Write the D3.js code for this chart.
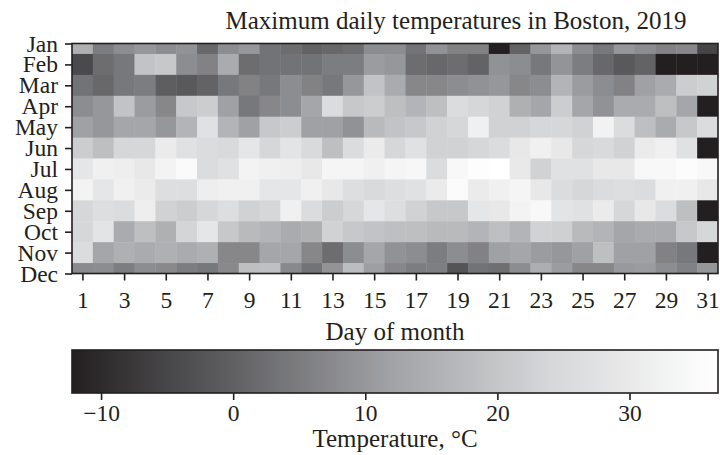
<!DOCTYPE html>
<html>
<head>
<meta charset="utf-8">
<script src="https://cdn.jsdelivr.net/npm/d3@7"></script>
<style>
  html, body { margin: 0; padding: 0; background: #ffffff; }
  svg { display: block; }
  text { font-family: "Liberation Serif", "Times New Roman", serif; fill: #231f20; }
</style>
</head>
<body>
<svg id="chart" width="720" height="455"></svg>
<script>
// ---- data (maximum daily temperature, °C; null = day does not exist) ----
const months = ["Jan","Feb","Mar","Apr","May","Jun","Jul","Aug","Sep","Oct","Nov","Dec"];
const days = d3.range(1, 32);
const xTickDays = [1,3,5,7,9,11,13,15,17,19,21,23,25,27,29,31];
const cbarTicks = [-10, 0, 10, 20, 30];

const jan = [15.0,5.1,8.0,9.8,8.0,8.9,1.4,8.0,9.8,3.3,2.3,0.5,1.4,2.3,8.0,8.0,3.3,8.9,6.1,6.1,-12.2,0.5,9.8,16.1,8.0,4.2,9.8,8.0,6.1,7.0,-5.4];
const feb = [-4.4,2.3,4.2,19.5,20.6,8.0,6.1,13.9,2.3,3.3,3.3,3.3,5.1,5.1,10.7,9.8,2.3,1.4,2.3,0.5,8.9,8.0,4.2,9.4,5.1,1.4,-1.4,0.5,null,null,null];
const mar = [3.3,1.4,4.2,5.1,-0.5,-1.4,0.5,4.2,6.1,4.2,8.0,6.1,4.2,9.8,19.5,13.9,7.0,7.0,8.0,8.9,9.8,7.0,8.0,16.1,10.7,8.0,6.1,11.7,13.9,21.7,22.9];
const apr = [8.0,9.8,19.5,10.7,7.0,20.6,21.7,11.7,4.2,7.0,8.0,12.8,25.6,20.6,21.7,18.4,16.1,18.4,25.6,24.0,22.9,15.0,12.8,21.7,12.8,8.9,13.9,13.9,18.4,12.8,null];
const may = [11.7,9.8,12.8,12.8,9.8,16.1,27.2,16.1,11.7,20.6,21.7,11.7,11.7,8.9,17.3,19.5,20.6,22.9,24.0,32.0,22.9,22.9,24.0,24.0,22.9,32.6,25.6,18.4,13.9,20.6,25.6];
const jun = [21.7,18.4,24.0,24.0,30.4,27.2,25.6,25.0,28.8,24.0,28.2,25.0,18.4,25.6,30.4,24.0,27.2,22.9,22.9,24.0,25.6,29.5,32.0,29.5,24.0,25.0,22.9,30.4,32.0,27.2,null];
const jul = [28.8,32.0,31.4,29.5,32.9,35.1,25.6,27.2,32.9,32.0,31.4,29.5,33.5,33.5,32.0,33.5,34.2,25.6,34.5,36.1,36.7,29.8,22.9,27.2,27.2,29.5,29.5,34.5,34.5,35.8,34.5];
const aug = [32.9,28.8,32.0,30.4,26.2,26.2,31.4,32.0,32.0,28.8,28.8,32.0,29.5,26.2,25.0,26.2,27.2,30.4,35.4,30.4,32.0,33.5,29.5,25.6,24.0,25.6,26.2,25.6,32.0,32.0,29.5];
const sep = [24.0,26.2,25.6,31.4,22.9,21.7,24.0,26.2,22.9,24.0,32.0,25.6,21.7,24.0,28.8,26.2,22.9,20.6,20.6,28.8,29.5,32.9,34.5,28.2,27.2,30.4,24.0,29.5,25.6,18.4,null];
const oct = [24.0,28.2,13.9,18.4,15.0,23.4,28.8,20.6,17.3,16.1,13.9,15.0,22.9,20.6,19.5,18.4,18.4,17.3,17.3,16.1,18.4,16.1,22.9,22.4,17.3,16.1,12.8,13.9,13.9,20.6,24.0];
const nov = [25.6,12.8,15.0,13.9,15.0,13.9,15.0,7.0,7.0,12.8,12.8,7.0,2.3,8.0,12.8,8.9,8.0,5.1,8.0,6.1,11.7,12.8,10.7,9.8,11.7,18.4,11.7,11.7,6.1,4.2,null];
const dec = [7.6,8.0,5.1,8.0,7.4,5.1,4.2,7.4,18.4,18.8,7.4,3.3,9.2,18.0,11.3,7.0,5.1,5.5,-2.4,3.3,2.7,8.0,14.6,10.7,7.0,7.0,10.2,10.7,8.0,5.8,9.6];
const temps = [jan, feb, mar, apr, may, jun, jul, aug, sep, oct, nov, dec];

// ---- layout ----
const svg = d3.select("#chart");
const plot = { left: 72, right: 718, top: 43.5, bottom: 273.5 };
const cbar = { top: 350, bottom: 393 };
const ink = "#231f20";
const fsTick = 23.5;
const fsLabel = 25;

const allVals = temps.flat().filter(v => v !== null);
const vmin = d3.min(allVals), vmax = d3.max(allVals);

// grey colour map (as rendered in the reference)
const cmapPos = [0, 0.24, 0.488, 0.735, 1];
const cmapCol = ["#231f20", "#5e5e61", "#a0a1a4", "#d5d6d8", "#ffffff"];
const color = d3.scaleLinear()
  .domain(cmapPos.map(p => vmin + p * (vmax - vmin)))
  .range(cmapCol)
  .clamp(true);

const x = d3.scaleLinear().domain([0.5, 31.5]).range([plot.left, plot.right]);
const y = d3.scaleLinear().domain([0, 11]).range([plot.top, plot.bottom]);

// title
svg.append("text")
  .attr("x", 456).attr("y", 29)
  .attr("text-anchor", "middle")
  .style("font-size", "25px")
  .text("Maximum daily temperatures in Boston, 2019");

// clip
svg.append("defs").append("clipPath").attr("id", "clip")
  .append("rect")
  .attr("x", plot.left).attr("y", plot.top)
  .attr("width", plot.right - plot.left).attr("height", plot.bottom - plot.top);

const cells = [];
temps.forEach((row, i) => row.forEach((v, j) => cells.push({ m: i, d: days[j], v })));

svg.append("g").attr("clip-path", "url(#clip)")
  .selectAll("rect").data(cells).join("rect")
  .attr("x", c => x(c.d - 0.5))
  .attr("y", c => y(c.m - 0.5))
  .attr("width", c => x(c.d + 0.5) - x(c.d - 0.5) + 0.4)
  .attr("height", c => y(c.m + 0.5) - y(c.m - 0.5) + 0.4)
  .attr("fill", c => c.v === null ? color(vmin) : color(c.v));

// frame
svg.append("rect")
  .attr("x", plot.left).attr("y", plot.top)
  .attr("width", plot.right - plot.left).attr("height", plot.bottom - plot.top)
  .attr("fill", "none").attr("stroke", ink).attr("stroke-width", 1.6);

// y axis
const yAxis = svg.append("g").attr("transform", `translate(${plot.left},0)`)
  .call(d3.axisLeft(y).tickValues(d3.range(12)).tickFormat(i => months[i]).tickSize(7).tickPadding(7));
yAxis.select(".domain").remove();
yAxis.selectAll("line").attr("stroke", ink).attr("stroke-width", 1.6);
yAxis.selectAll("text").style("font-size", fsTick + "px").attr("fill", ink).attr("font-family", null);

// x axis
const xAxis = svg.append("g").attr("transform", `translate(0,${plot.bottom})`)
  .call(d3.axisBottom(x).tickValues(xTickDays).tickFormat(d3.format("d")).tickSize(7).tickPadding(11));
xAxis.select(".domain").remove();
xAxis.selectAll("line").attr("stroke", ink).attr("stroke-width", 1.6);
xAxis.selectAll("text").style("font-size", fsTick + "px").attr("fill", ink).attr("font-family", null);

svg.append("text")
  .attr("x", (plot.left + plot.right) / 2).attr("y", 340)
  .attr("text-anchor", "middle")
  .style("font-size", fsLabel + "px")
  .text("Day of month");

// colour bar
const cx = d3.scaleLinear().domain([vmin, vmax]).range([plot.left, plot.right]);
const grad = svg.select("defs").append("linearGradient").attr("id", "cbgrad")
  .attr("x1", "0%").attr("x2", "100%").attr("y1", "0%").attr("y2", "0%");
d3.range(0, 1.0001, 0.02).forEach(p => {
  grad.append("stop").attr("offset", (p * 100) + "%").attr("stop-color", color(vmin + p * (vmax - vmin)));
});
svg.append("rect")
  .attr("x", plot.left).attr("y", cbar.top)
  .attr("width", plot.right - plot.left).attr("height", cbar.bottom - cbar.top)
  .attr("fill", "url(#cbgrad)")
  .attr("stroke", ink).attr("stroke-width", 1.6);

const cAxis = svg.append("g").attr("transform", `translate(0,${cbar.bottom})`)
  .call(d3.axisBottom(cx).tickValues(cbarTicks).tickFormat(d => d < 0 ? "\u2212" + Math.abs(d) : String(d)).tickSize(7).tickPadding(4));
cAxis.select(".domain").remove();
cAxis.selectAll("line").attr("stroke", ink).attr("stroke-width", 1.6);
cAxis.selectAll("text").style("font-size", fsTick + "px").attr("fill", ink).attr("font-family", null);

svg.append("text")
  .attr("x", (plot.left + plot.right) / 2).attr("y", 447)
  .attr("text-anchor", "middle")
  .style("font-size", fsLabel + "px")
  .text("Temperature, \u00B0C");
</script>
</body>
</html>
